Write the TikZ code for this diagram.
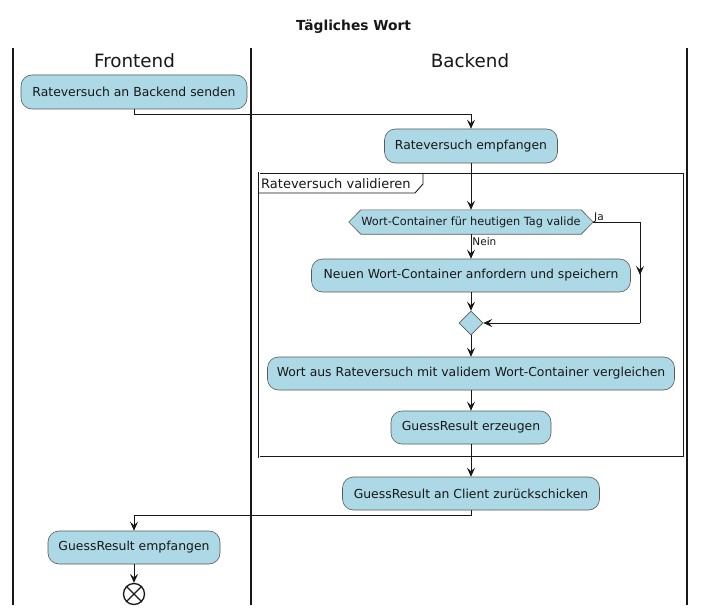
\documentclass[tikz,border=0pt]{standalone}
\usepackage{fontspec}
\setmainfont{DejaVu Sans}
\usetikzlibrary{arrows.meta,shapes.geometric}
\definecolor{actfill}{HTML}{ADD8E6}
\definecolor{actline}{HTML}{5A5A5A}
\definecolor{ink}{HTML}{181818}
\tikzset{
  act/.style={draw=actline, fill=actfill, line width=0.6pt, rounded corners=11pt,
    inner sep=0pt, font=\fontsize{12.4}{14}\selectfont, text=ink},
  flow/.style={draw=ink, line width=0.9pt, -{Stealth[length=9pt,width=8pt,inset=3.5pt]}},
  lane/.style={draw=ink, line width=1.4pt},
  lanetitle/.style={font=\fontsize{18.3}{21}\selectfont, text=ink},
  lbl/.style={font=\fontsize{10.5}{12}\selectfont, text=ink, inner sep=1pt},
}
\begin{document}
\begin{tikzpicture}[x=1pt,y=-1pt]
\useasboundingbox (0,0) rectangle (707,615);
\fill[white] (0,0) rectangle (707,615);

% title
\node[font=\bfseries\fontsize{13.8}{16}\selectfont, text=ink] (title) at (353.5,27) {Tägliches Wort};

% swimlanes
\coordinate (l1t) at (13,48);  \coordinate (l1b) at (13,605);
\coordinate (l2t) at (251,48); \coordinate (l2b) at (251,605);
\coordinate (l3t) at (687,48); \coordinate (l3b) at (687,605);
\draw[lane] (l1t) -- (l1b);
\draw[lane] (l2t) -- (l2b);
\draw[lane] (l3t) -- (l3b);
\node[lanetitle] (fe) at (134.5,61) {Frontend};
\node[lanetitle] (be) at (470,61) {Backend};

% group box
\draw[draw=ink, double=white, double distance=1pt, line width=0.6pt] (259,173) rectangle (684,457);
\draw[draw=ink, line width=0.9pt] (259,193) -- (415,193) -- (423,184) -- (423,173);
\node[anchor=west, font=\fontsize{13}{15}\selectfont, text=ink, inner sep=0pt] (gt) at (261,183.5) {Rateversuch validieren};

% activities
\node[act, minimum width=226pt, minimum height=34pt] (a1) at (134,92) {Rateversuch an Backend senden};
\node[act, minimum width=173pt, minimum height=34pt] (a2) at (471,146) {Rateversuch empfangen};

% decision hexagon
\node[minimum width=244pt, minimum height=24pt, inner sep=0pt] (d1) at (471,222) {};
\draw[draw=actline, fill=actfill, line width=0.6pt]
  (d1.west) -- ([xshift=12pt]d1.north west) -- ([xshift=-12pt]d1.north east) -- (d1.east)
  -- ([xshift=-12pt]d1.south east) -- ([xshift=12pt]d1.south west) -- cycle;
\node[font=\fontsize{11.3}{13}\selectfont, text=ink, inner sep=0pt] (d1t) at (d1) {Wort-Container für heutigen Tag valide};

\node[act, minimum width=319pt, minimum height=33pt] (a3) at (471,275.5) {Neuen Wort-Container anfordern und speichern};

% merge diamond
\node[diamond, draw=actline, fill=actfill, line width=0.6pt, inner sep=0pt, minimum width=24pt, minimum height=24pt] (m1) at (471,323) {};

\node[act, minimum width=407pt, minimum height=33pt] (a4) at (471,373.5) {Wort aus Rateversuch mit validem Wort-Container vergleichen};
\node[act, minimum width=160pt, minimum height=33pt] (a5) at (471,427.5) {GuessResult erzeugen};
\node[act, minimum width=257pt, minimum height=33pt] (a6) at (471,493.5) {GuessResult an Client zurückschicken};
\node[act, minimum width=172pt, minimum height=33pt] (a7) at (134,547.5) {GuessResult empfangen};

% end node
\node[draw=ink, fill=white, circle, line width=1.3pt, minimum size=21pt, inner sep=0pt] (end) at (134,594) {};
\draw[ink, line width=1.3pt] (end.north east) -- (end.south west) (end.north west) -- (end.south east);

% connectors
\draw[flow] (a1.south) -- ++(0,5) -| (a2.north);
\draw[flow] (a2.south) -- (d1.north);
\draw[flow] (d1.south) -- (a3.north) node[pos=0.3, anchor=west, lbl] {Nein};
\coordinate (jr) at (640,222);
\coordinate (jb) at (640,323);
\coordinate (jm) at (640,275);
\draw[draw=ink, line width=0.9pt] (d1.east) -- (jr) -- (jb);
\draw[flow] (jr) -- (jm);
\draw[flow] (jb) -- (m1.east);
\node[lbl, anchor=south west] (ja) at (593,224) {Ja};
\draw[flow] (a3.south) -- (m1.north);
\draw[flow] (m1.south) -- (a4.north);
\draw[flow] (a4.south) -- (a5.north);
\draw[flow] (a5.south) -- (a6.north);
\draw[flow] (a6.south) -- ++(0,5) -| (a7.north);
\draw[flow] (a7.south) -- (end.north);
\end{tikzpicture}
\end{document}
